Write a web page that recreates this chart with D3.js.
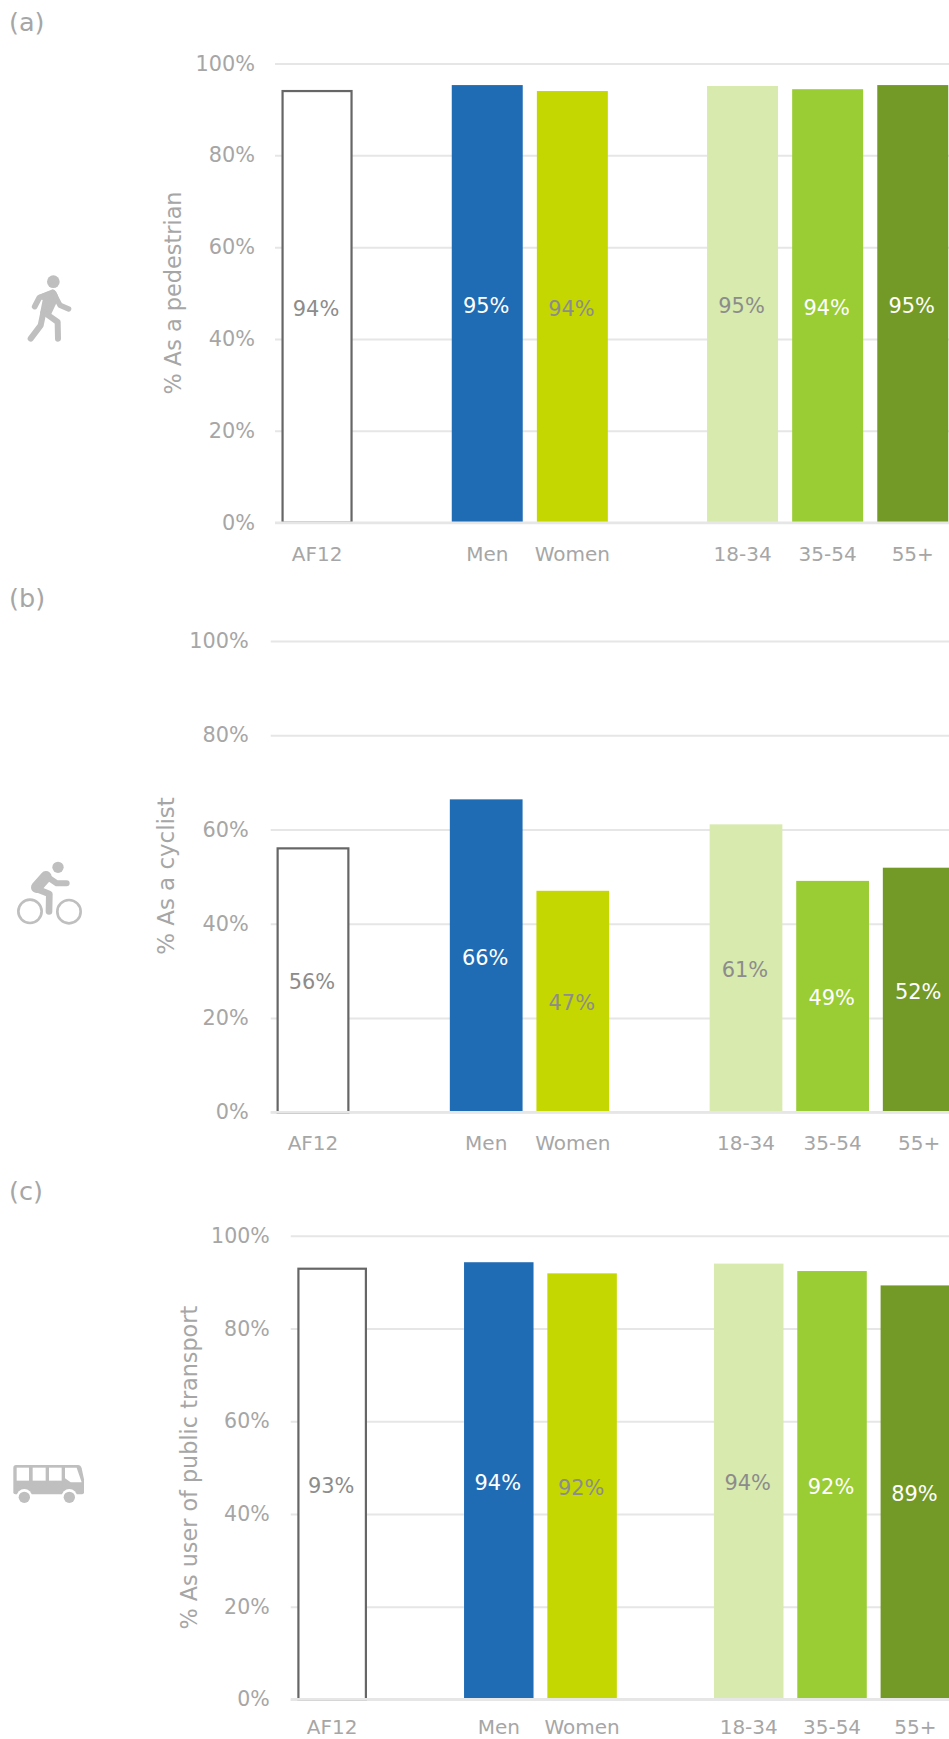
<!DOCTYPE html>
<html>
<head>
<meta charset="utf-8">
<script src="https://cdn.jsdelivr.net/npm/d3@7/dist/d3.min.js"></script>
<style>
html,body{margin:0;padding:0;background:#fff;}
svg{display:block;}
text{font-family:"DejaVu Sans",Verdana,sans-serif;}
</style>
</head>
<body>
<div id="chart"></div>
<script>
const categories = ["AF12","Men","Women","18-34","35-54","55+"];
const slots = ["AF12","gap1","Men","Women","gap2","18-34","35-54","55+"];
const yTicks = [0,20,40,60,80,100];
const pedestrian = [94.0,95.3,94.0,95.1,94.4,95.3];
const cyclist = [56.0,66.4,47.0,61.1,49.1,51.9];
const transport = [92.9,94.3,91.9,94.0,92.4,89.3];
const fills = ["#ffffff","#1f6cb5","#c4d700","#d8eaae","#9acc34","#739a27"];
const labelColors = ["#8c8c8c","#ffffff","#8c8c8c","#8c8c8c","#ffffff","#ffffff"];

const W = 949, H = 1739;
const GREY = "#a6a6a6", ICON = "#bfbfbf", GRID = "#e6e6e6";

const panels = [
  {tag:"(a)", tagY:30.5, title:"% As a pedestrian", values:pedestrian, top:63.5, bottom:522.7, gridX:275, tickPad:20, bandL:274.5, bandR:955.3, pad:.166, titleX:173, titleY:293, titleFont:22.4, font:20.8, xPad:23.7, icon:"walk"},
  {tag:"(b)", tagY:606.6, title:"% As a cyclist", values:cyclist, top:641, bottom:1112.3, gridX:270.7, tickPad:22, bandL:269.7, bandR:962.5, pad:.16, titleX:166, titleY:876, titleFont:22.9, font:20.8, xPad:24, icon:"bike"},
  {tag:"(c)", tagY:1200, title:"% As user of public transport", values:transport, top:1235.8, bottom:1699.4, gridX:290.7, tickPad:21, bandL:290.5, bandR:957, pad:.166, titleX:189, titleY:1467.7, titleFont:22.3, font:20.5, xPad:20.4, icon:"bus"}
];

const svg = d3.select("#chart").append("svg").attr("width",W).attr("height",H).attr("viewBox",`0 0 ${W} ${H}`);

const icons = {
  walk(g){
    g.attr("transform","translate(0,250) scale(0.3333)");
    g.append("circle").attr("cx",160).attr("cy",95).attr("r",19).attr("fill",ICON);
    const line = (d,w)=>g.append("path").attr("d",d).attr("fill","none").attr("stroke",ICON).attr("stroke-width",w).attr("stroke-linecap","round").attr("stroke-linejoin","round");
    g.append("path").attr("d","M114,136L158,118Q170,120 176,145L150,200L120,190L128,150Z").attr("fill",ICON);
    line("M150,132L118,143L104,170",17);
    line("M162,132L180,166L206,177",16);
    line("M130,188L122,226L92,266",18);
    line("M142,194L173,216L174,266",18);
  },
  bike(g){
    g.attr("transform","translate(0,850) scale(0.3333)");
    g.append("circle").attr("cx",174).attr("cy",52).attr("r",17).attr("fill",ICON);
    [[90,184],[207,185]].forEach(c=>g.append("circle").attr("cx",c[0]).attr("cy",c[1]).attr("r",35).attr("fill","none").attr("stroke",ICON).attr("stroke-width",8));
    const line = (d,w)=>g.append("path").attr("d",d).attr("fill","none").attr("stroke",ICON).attr("stroke-width",w).attr("stroke-linecap","round").attr("stroke-linejoin","round");
    line("M138,78L170,100L200,100",18);
    line("M138,80L110,112",34);
    line("M106,115L148,132L147,184",20);
  },
  bus(g){
    g.attr("transform","translate(0,1450) scale(0.3333)");
    g.append("path").attr("d","M48,45H234Q242,45 245,55L252,88V127Q252,133 246,133H46Q40,133 40,127V53Q40,45 48,45Z").attr("fill",ICON);
    const win = d=>g.append("path").attr("d",d).attr("fill","#fff");
    win("M50,53H87V92H50Z");
    win("M98,53H137V92H98Z");
    win("M147,53H185V92H147Z");
    win("M195,53H230L245,97H212L195,85Z");
    [73,208].forEach(x=>{
      g.append("circle").attr("cx",x).attr("cy",140).attr("r",23).attr("fill","#fff");
      g.append("circle").attr("cx",x).attr("cy",142).attr("r",17).attr("fill",ICON);
    });
  }
};

panels.forEach(p=>{
  const rows = categories.map((c,i)=>({c,i,v:p.values[i]}));
  const g = svg.append("g");
  const x = d3.scaleBand().domain(slots).range([p.bandL,p.bandR]).paddingInner(p.pad).paddingOuter(p.pad/2);
  const y = d3.scaleLinear().domain([0,100]).range([p.bottom,p.top]);

  g.append("text").attr("x",9).attr("y",p.tagY).attr("font-size",25.5).attr("fill",GREY).text(p.tag);
  icons[p.icon](g.append("g"));

  g.append("text")
    .attr("transform",`translate(${p.titleX},${p.titleY}) rotate(-90)`)
    .attr("text-anchor","middle").attr("dy","0.35em")
    .attr("font-size",p.titleFont).attr("fill",GREY).text(p.title);

  // y axis with gridlines
  const yAxis = d3.axisLeft(y).tickValues(yTicks).tickFormat(d=>d+"%")
    .tickSizeInner(-(W-p.gridX)).tickSizeOuter(0).tickPadding(p.tickPad);
  const ya = g.append("g").attr("transform",`translate(${p.gridX},0)`).call(yAxis);
  ya.select(".domain").remove();
  ya.selectAll(".tick line").attr("stroke",GRID).attr("stroke-width",2);
  ya.selectAll(".tick text").attr("fill",GREY).attr("font-size",p.font).style("font-family",'"DejaVu Sans"');

  // bars
  const bw = x.bandwidth();
  g.selectAll("rect.bar").data(rows).join("rect").attr("class","bar")
    .attr("x",d=>d.i===0 ? x(d.c)+1 : x(d.c))
    .attr("width",d=>d.i===0 ? bw-2 : bw)
    .attr("y",d=>y(d.v))
    .attr("height",d=>y(0)-y(d.v))
    .attr("fill",d=>fills[d.i])
    .attr("stroke",d=>d.i===0?"#666666":"none")
    .attr("stroke-width",d=>d.i===0?2.2:0);

  // baseline above bars
  g.append("line").attr("x1",p.gridX).attr("x2",W).attr("y1",y(0)).attr("y2",y(0)).attr("stroke",GRID).attr("stroke-width",2.6);

  // value labels
  g.selectAll("text.val").data(rows).join("text").attr("class","val")
    .attr("x",d=>x(d.c)+bw/2-1)
    .attr("y",d=>(y(d.v)+y(0))/2+1.5)
    .attr("dy","0.35em").attr("text-anchor","middle")
    .attr("font-size",20.9)
    .attr("fill",d=>labelColors[d.i])
    .text(d=>Math.round(d.v)+"%");

  // x axis
  const xAxis = d3.axisBottom(x).tickValues(categories).tickSize(0).tickPadding(p.xPad);
  const xa = g.append("g").attr("transform",`translate(0,${y(0)})`).call(xAxis);
  xa.select(".domain").remove();
  xa.selectAll(".tick text").attr("fill",GREY).attr("font-size",20).style("font-family",'"DejaVu Sans"');
});
</script>
</body>
</html>
